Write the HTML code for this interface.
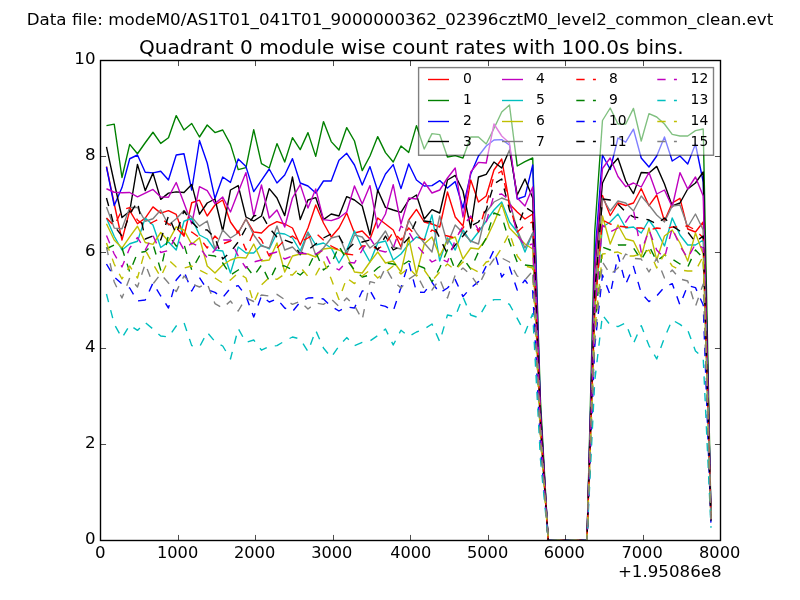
<!DOCTYPE html>
<html lang="en"><head><meta charset="utf-8"><title>Quadrant 0 module wise count rates</title>
<style>html,body{margin:0;padding:0;background:#fff;}body{width:800px;height:600px;overflow:hidden;}svg{display:block;will-change:transform;opacity:0.999;}text{font-family:"DejaVu Sans","Liberation Sans",sans-serif;fill:#000;}</style></head><body>
<svg width="800" height="600" viewBox="0 0 800 600">
<rect x="0" y="0" width="800" height="600" fill="#ffffff"/>
<defs><clipPath id="ax"><rect x="100.5" y="60.5" width="620" height="480"/></clipPath></defs>
<g clip-path="url(#ax)" fill="none" stroke-width="1.39" stroke-linejoin="round" stroke-linecap="butt">
<polyline points="106.47,166.50 114.22,203.75 121.97,240.00 129.72,210.60 137.47,223.75 145.22,218.10 152.97,206.90 160.72,213.10 168.47,210.60 176.22,214.40 183.97,236.25 191.72,202.75 199.47,200.20 207.22,216.00 214.97,205.00 222.72,200.00 230.47,222.00 238.22,233.00 245.97,219.00 253.72,232.00 261.47,233.00 269.22,225.60 276.97,221.60 284.72,224.00 292.47,228.00 300.22,245.00 307.97,228.00 315.72,205.00 323.47,223.00 331.22,237.00 338.97,228.00 346.72,213.00 354.47,233.00 362.22,231.00 369.97,239.00 377.72,218.00 385.47,224.00 393.22,230.00 400.97,247.00 408.72,220.00 416.47,209.40 424.22,222.00 431.97,224.00 439.72,227.00 447.47,192.00 455.22,217.00 462.97,226.00 470.72,180.00 478.47,202.00 486.22,196.00 493.97,170.00 501.72,159.00 509.47,204.00 517.22,212.00 524.97,219.00 532.72,214.00 540.47,420.06 548.22,540.50 555.97,540.50 563.72,540.50 571.47,540.50 579.22,540.50 586.97,540.50 594.72,295.34 602.47,195.50 610.22,215.50 617.97,203.00 625.72,205.50 633.47,203.00 641.22,188.50 648.97,205.70 656.72,195.00 664.47,221.00 672.22,203.00 679.97,198.30 687.72,229.00 695.47,232.00 703.22,222.00 710.97,519.85" stroke="#ff0000"/>
<polyline points="106.47,125.60 114.22,124.10 121.97,177.50 129.72,144.40 137.47,153.75 145.22,142.75 152.97,132.25 160.72,143.40 168.47,137.75 176.22,115.60 183.97,130.00 191.72,123.50 199.47,137.00 207.22,125.00 214.97,132.60 222.72,130.00 230.47,144.40 238.22,169.60 245.97,167.60 253.72,129.60 261.47,163.60 269.22,168.00 276.97,143.60 284.72,162.00 292.47,137.60 300.22,149.60 307.97,132.60 315.72,156.40 323.47,121.60 331.22,141.60 338.97,150.00 346.72,127.60 354.47,141.00 362.22,170.60 369.97,156.00 377.72,136.60 385.47,152.60 393.22,162.00 400.97,146.00 408.72,152.40 416.47,125.60 424.22,149.00 431.97,133.60 439.72,134.60 447.47,157.00 455.22,155.60 462.97,158.00 470.72,137.00 478.47,137.00 486.22,144.00 493.97,128.50 501.72,112.00 509.47,105.00 517.22,166.00 524.97,161.60 532.72,158.00 540.47,400.41 548.22,540.50 555.97,540.50 563.72,540.50 571.47,540.50 579.22,540.50 586.97,540.50 594.72,231.71 602.47,120.50 610.22,108.00 617.97,124.00 625.72,124.00 633.47,108.40 641.22,141.00 648.97,113.60 656.72,117.00 664.47,124.00 672.22,134.40 679.97,136.00 687.72,136.00 695.47,130.60 703.22,129.00 710.97,513.53" stroke="#008000"/>
<polyline points="106.47,167.00 114.22,205.60 121.97,187.60 129.72,158.75 137.47,155.00 145.22,172.25 152.97,172.90 160.72,171.25 168.47,180.00 176.22,155.00 183.97,153.75 191.72,190.00 199.47,140.50 207.22,163.00 214.97,198.60 222.72,177.00 230.47,182.40 238.22,159.00 245.97,166.60 253.72,191.60 261.47,180.40 269.22,169.00 276.97,183.00 284.72,175.00 292.47,158.60 300.22,183.00 307.97,186.00 315.72,193.00 323.47,181.00 331.22,181.00 338.97,160.30 346.72,153.30 354.47,165.00 362.22,185.00 369.97,166.60 377.72,191.00 385.47,174.00 393.22,164.60 400.97,188.60 408.72,164.00 416.47,180.00 424.22,186.00 431.97,185.60 439.72,180.60 447.47,188.00 455.22,181.60 462.97,208.00 470.72,174.00 478.47,156.00 486.22,146.00 493.97,140.00 501.72,139.60 509.47,145.00 517.22,199.00 524.97,196.40 532.72,165.00 540.47,409.63 548.22,540.50 555.97,540.50 563.72,540.50 571.47,540.50 579.22,540.50 586.97,540.50 594.72,258.48 602.47,155.00 610.22,169.50 617.97,138.00 625.72,142.20 633.47,129.20 641.22,158.00 648.97,167.00 656.72,156.00 664.47,137.00 672.22,161.00 679.97,156.00 687.72,164.00 695.47,144.00 703.22,182.00 710.97,515.61" stroke="#0000ff"/>
<polyline points="106.47,146.90 114.22,182.50 121.97,217.50 129.72,211.25 137.47,164.40 145.22,190.60 152.97,173.10 160.72,199.40 168.47,193.10 176.22,191.90 183.97,192.50 191.72,184.40 199.47,214.20 207.22,203.00 214.97,199.00 222.72,231.00 230.47,190.00 238.22,185.60 245.97,217.00 253.72,221.00 261.47,216.00 269.22,188.60 276.97,198.00 284.72,215.60 292.47,177.00 300.22,219.60 307.97,200.00 315.72,197.60 323.47,219.60 331.22,214.00 338.97,216.00 346.72,196.60 354.47,200.00 362.22,206.00 369.97,235.00 377.72,190.00 385.47,207.40 393.22,210.00 400.97,212.40 408.72,200.00 416.47,195.00 424.22,219.00 431.97,209.60 439.72,213.00 447.47,180.00 455.22,175.40 462.97,191.00 470.72,228.00 478.47,177.00 486.22,174.40 493.97,162.00 501.72,168.00 509.47,150.00 517.22,195.00 524.97,179.00 532.72,198.00 540.47,411.06 548.22,540.50 555.97,540.50 563.72,540.50 571.47,540.50 579.22,540.50 586.97,540.50 594.72,269.62 602.47,183.00 610.22,167.00 617.97,158.30 625.72,181.00 633.47,193.60 641.22,172.50 648.97,173.00 656.72,166.40 664.47,184.00 672.22,206.00 679.97,203.00 687.72,189.00 695.47,183.00 703.22,172.00 710.97,516.79" stroke="#000000"/>
<polyline points="106.47,188.75 114.22,192.25 121.97,192.75 129.72,192.50 137.47,196.90 145.22,193.10 152.97,189.40 160.72,196.90 168.47,197.25 176.22,182.50 183.97,203.00 191.72,223.75 199.47,186.60 207.22,190.60 214.97,203.60 222.72,197.00 230.47,212.00 238.22,192.00 245.97,172.60 253.72,216.00 261.47,185.00 269.22,218.00 276.97,210.00 284.72,227.00 292.47,198.00 300.22,184.60 307.97,208.00 315.72,189.00 323.47,219.60 331.22,220.60 338.97,218.00 346.72,212.00 354.47,186.00 362.22,204.00 369.97,185.60 377.72,228.00 385.47,214.00 393.22,184.60 400.97,224.00 408.72,198.00 416.47,199.00 424.22,182.00 431.97,193.00 439.72,190.00 447.47,178.00 455.22,168.00 462.97,217.00 470.72,172.00 478.47,162.40 486.22,163.00 493.97,124.00 501.72,136.00 509.47,143.00 517.22,198.00 524.97,206.00 532.72,187.00 540.47,413.40 548.22,540.50 555.97,540.50 563.72,540.50 571.47,540.50 579.22,540.50 586.97,540.50 594.72,268.33 602.47,168.50 610.22,158.00 617.97,176.50 625.72,186.70 633.47,183.00 641.22,187.00 648.97,172.50 656.72,194.00 664.47,190.00 672.22,207.00 679.97,172.60 687.72,189.00 695.47,177.00 703.22,196.00 710.97,517.19" stroke="#bf00bf"/>
<polyline points="106.47,218.10 114.22,236.25 121.97,250.00 129.72,243.75 137.47,241.25 145.22,218.10 152.97,225.00 160.72,247.50 168.47,241.90 176.22,250.00 183.97,221.25 191.72,218.10 199.47,235.00 207.22,239.00 214.97,250.00 222.72,251.00 230.47,273.00 238.22,247.00 245.97,253.00 253.72,253.00 261.47,245.00 269.22,249.00 276.97,233.00 284.72,234.00 292.47,238.00 300.22,251.00 307.97,232.00 315.72,245.00 323.47,243.00 331.22,248.00 338.97,263.00 346.72,250.00 354.47,231.00 362.22,248.00 369.97,262.00 377.72,243.00 385.47,241.00 393.22,260.00 400.97,254.00 408.72,244.00 416.47,237.00 424.22,240.00 431.97,215.00 439.72,261.00 447.47,238.00 455.22,250.00 462.97,230.00 470.72,242.00 478.47,232.00 486.22,221.00 493.97,210.00 501.72,202.00 509.47,222.00 517.22,232.00 524.97,252.00 532.72,233.00 540.47,428.94 548.22,540.50 555.97,540.50 563.72,540.50 571.47,540.50 579.22,540.50 586.97,540.50 594.72,307.26 602.47,227.00 610.22,222.00 617.97,214.00 625.72,228.00 633.47,227.00 641.22,233.00 648.97,220.00 656.72,231.00 664.47,246.00 672.22,218.00 679.97,235.00 687.72,245.00 695.47,245.00 703.22,240.00 710.97,520.89" stroke="#00bfbf"/>
<polyline points="106.47,223.75 114.22,240.00 121.97,248.10 129.72,236.90 137.47,226.25 145.22,242.50 152.97,244.40 160.72,232.50 168.47,241.25 176.22,226.90 183.97,230.00 191.72,244.40 199.47,237.80 207.22,266.00 214.97,273.00 222.72,265.00 230.47,260.00 238.22,257.40 245.97,258.00 253.72,244.00 261.47,261.00 269.22,260.00 276.97,243.00 284.72,272.00 292.47,256.00 300.22,254.00 307.97,254.00 315.72,257.00 323.47,249.00 331.22,248.00 338.97,250.00 346.72,255.00 354.47,272.00 362.22,273.00 369.97,262.00 377.72,252.00 385.47,263.00 393.22,261.00 400.97,272.00 408.72,238.00 416.47,274.00 424.22,244.00 431.97,237.00 439.72,256.00 447.47,240.00 455.22,237.00 462.97,259.00 470.72,248.00 478.47,249.00 486.22,239.00 493.97,222.50 501.72,204.00 509.47,228.00 517.22,236.00 524.97,244.00 532.72,249.00 540.47,430.43 548.22,540.50 555.97,540.50 563.72,540.50 571.47,540.50 579.22,540.50 586.97,540.50 594.72,312.62 602.47,216.00 610.22,244.00 617.97,225.00 625.72,239.00 633.47,241.00 641.22,257.00 648.97,228.00 656.72,260.00 664.47,236.00 672.22,230.00 679.97,243.00 687.72,261.00 695.47,233.00 703.22,254.00 710.97,521.28" stroke="#bfbf00"/>
<polyline points="106.47,206.90 114.22,228.10 121.97,228.75 129.72,207.50 137.47,207.50 145.22,221.25 152.97,218.75 160.72,210.00 168.47,225.00 176.22,218.75 183.97,210.60 191.72,217.00 199.47,226.10 207.22,221.00 214.97,249.00 222.72,230.00 230.47,238.00 238.22,233.00 245.97,219.00 253.72,235.00 261.47,246.00 269.22,248.00 276.97,226.00 284.72,250.00 292.47,247.00 300.22,255.00 307.97,233.00 315.72,255.00 323.47,248.00 331.22,238.00 338.97,236.00 346.72,254.00 354.47,235.00 362.22,237.00 369.97,248.00 377.72,242.00 385.47,231.00 393.22,247.00 400.97,249.00 408.72,220.00 416.47,233.00 424.22,243.00 431.97,252.00 439.72,216.00 447.47,244.00 455.22,225.00 462.97,233.00 470.72,241.00 478.47,244.00 486.22,212.00 493.97,202.00 501.72,198.00 509.47,201.00 517.22,230.00 524.97,248.00 532.72,233.00 540.47,428.20 548.22,540.50 555.97,540.50 563.72,540.50 571.47,540.50 579.22,540.50 586.97,540.50 594.72,294.37 602.47,198.00 610.22,211.00 617.97,201.00 625.72,203.00 633.47,211.00 641.22,196.00 648.97,205.00 656.72,215.00 664.47,222.00 672.22,206.00 679.97,205.00 687.72,227.00 695.47,214.00 703.22,230.00 710.97,519.59" stroke="#808080"/>
<polyline points="106.47,218.00 114.22,226.00 121.97,210.00 129.72,207.60 137.47,220.00 145.22,226.00 152.97,222.00 160.72,218.00 168.47,224.00 176.22,228.00 183.97,236.00 191.72,232.00 199.47,237.60 207.22,248.00 214.97,236.00 222.72,244.00 230.47,241.00 238.22,231.00 245.97,250.00 253.72,232.00 261.47,240.00 269.22,256.00 276.97,248.00 284.72,240.00 292.47,236.00 300.22,242.00 307.97,238.00 315.72,233.00 323.47,240.00 331.22,246.00 338.97,250.00 346.72,254.00 354.47,255.00 362.22,246.00 369.97,246.00 377.72,249.00 385.47,244.00 393.22,232.00 400.97,240.00 408.72,228.00 416.47,236.00 424.22,240.00 431.97,230.00 439.72,234.00 447.47,236.00 455.22,238.00 462.97,228.00 470.72,217.00 478.47,232.00 486.22,205.00 493.97,176.00 501.72,171.00 509.47,205.00 517.22,232.00 524.97,225.00 532.72,222.00 540.47,424.26 548.22,540.50 555.97,540.50 563.72,540.50 571.47,540.50 579.22,540.50 586.97,540.50 594.72,308.97 602.47,220.00 610.22,224.00 617.97,226.00 625.72,227.00 633.47,228.00 641.22,228.00 648.97,230.00 656.72,228.00 664.47,229.00 672.22,227.00 679.97,227.00 687.72,226.00 695.47,230.00 703.22,238.00 710.97,520.10" stroke="#ff0000" stroke-dasharray="8.33 8.33"/>
<polyline points="106.47,248.75 114.22,245.00 121.97,248.00 129.72,272.00 137.47,253.00 145.22,251.50 152.97,244.40 160.72,270.00 168.47,235.00 176.22,246.00 183.97,244.40 191.72,270.00 199.47,256.00 207.22,255.00 214.97,256.00 222.72,263.00 230.47,275.00 238.22,270.00 245.97,266.00 253.72,276.00 261.47,265.00 269.22,281.00 276.97,265.00 284.72,266.00 292.47,270.00 300.22,275.00 307.97,268.00 315.72,252.00 323.47,270.00 331.22,264.00 338.97,246.00 346.72,260.00 354.47,270.00 362.22,277.00 369.97,275.00 377.72,268.00 385.47,263.00 393.22,264.00 400.97,266.00 408.72,261.00 416.47,265.00 424.22,268.00 431.97,282.00 439.72,268.00 447.47,250.00 455.22,270.00 462.97,258.00 470.72,269.00 478.47,252.00 486.22,238.00 493.97,213.00 501.72,216.00 509.47,242.00 517.22,262.00 524.97,265.00 532.72,266.00 540.47,438.32 548.22,540.50 555.97,540.50 563.72,540.50 571.47,540.50 579.22,540.50 586.97,540.50 594.72,326.49 602.47,247.00 610.22,250.00 617.97,245.00 625.72,245.00 633.47,248.00 641.22,260.00 648.97,246.00 656.72,261.00 664.47,255.00 672.22,259.00 679.97,264.00 687.72,267.00 695.47,250.00 703.22,258.00 710.97,521.88" stroke="#008000" stroke-dasharray="8.33 8.33"/>
<polyline points="106.47,264.00 114.22,277.00 121.97,284.00 129.72,288.00 137.47,301.00 145.22,300.00 152.97,283.00 160.72,296.00 168.47,308.00 176.22,280.00 183.97,271.00 191.72,291.00 199.47,277.60 207.22,289.60 214.97,292.40 222.72,297.60 230.47,288.00 238.22,285.60 245.97,296.00 253.72,317.00 261.47,296.00 269.22,302.00 276.97,299.00 284.72,308.00 292.47,311.60 300.22,302.00 307.97,298.00 315.72,297.60 323.47,299.00 331.22,306.40 338.97,311.00 346.72,307.00 354.47,308.00 362.22,291.00 369.97,290.40 377.72,304.40 385.47,306.40 393.22,311.00 400.97,287.50 408.72,262.20 416.47,292.00 424.22,292.40 431.97,282.40 439.72,293.00 447.47,288.00 455.22,279.60 462.97,296.60 470.72,288.00 478.47,281.60 486.22,266.00 493.97,250.00 501.72,277.00 509.47,267.00 517.22,290.00 524.97,280.00 532.72,291.00 540.47,446.70 548.22,540.50 555.97,540.50 563.72,540.50 571.47,540.50 579.22,540.50 586.97,540.50 594.72,346.69 602.47,275.00 610.22,295.00 617.97,255.00 625.72,284.00 633.47,266.40 641.22,293.00 648.97,301.60 656.72,296.00 664.47,287.00 672.22,283.60 679.97,305.00 687.72,285.60 695.47,287.60 703.22,305.00 710.97,524.15" stroke="#0000ff" stroke-dasharray="8.33 8.33"/>
<polyline points="106.47,198.00 114.22,226.00 121.97,236.00 129.72,214.00 137.47,202.00 145.22,239.00 152.97,236.00 160.72,240.00 168.47,216.00 176.22,234.00 183.97,211.00 191.72,222.00 199.47,229.60 207.22,230.00 214.97,238.00 222.72,259.00 230.47,252.00 238.22,242.00 245.97,228.00 253.72,216.00 261.47,214.00 269.22,228.00 276.97,237.00 284.72,240.00 292.47,243.00 300.22,254.00 307.97,250.00 315.72,244.00 323.47,238.00 331.22,234.00 338.97,236.00 346.72,250.00 354.47,243.00 362.22,242.00 369.97,240.00 377.72,250.00 385.47,236.00 393.22,250.00 400.97,246.00 408.72,238.00 416.47,220.00 424.22,221.00 431.97,222.00 439.72,238.00 447.47,254.00 455.22,245.00 462.97,236.00 470.72,226.00 478.47,222.00 486.22,210.00 493.97,184.00 501.72,179.00 509.47,210.00 517.22,228.00 524.97,207.00 532.72,212.00 540.47,420.31 548.22,540.50 555.97,540.50 563.72,540.50 571.47,540.50 579.22,540.50 586.97,540.50 594.72,292.66 602.47,199.00 610.22,200.00 617.97,204.00 625.72,212.00 633.47,217.00 641.22,218.00 648.97,220.00 656.72,224.00 664.47,218.00 672.22,226.00 679.97,231.00 687.72,232.00 695.47,242.00 703.22,236.00 710.97,520.45" stroke="#000000" stroke-dasharray="8.33 8.33"/>
<polyline points="106.47,235.60 114.22,254.00 121.97,267.00 129.72,248.00 137.47,237.50 145.22,250.00 152.97,235.60 160.72,252.50 168.47,250.60 176.22,235.60 183.97,250.00 191.72,243.00 199.47,246.80 207.22,258.00 214.97,250.00 222.72,240.00 230.47,240.00 238.22,256.00 245.97,268.00 253.72,262.00 261.47,260.00 269.22,254.00 276.97,252.00 284.72,259.00 292.47,256.00 300.22,253.00 307.97,254.00 315.72,254.00 323.47,250.00 331.22,266.00 338.97,270.00 346.72,262.00 354.47,263.00 362.22,250.00 369.97,238.00 377.72,250.00 385.47,252.00 393.22,248.00 400.97,226.00 408.72,232.00 416.47,245.00 424.22,254.00 431.97,262.00 439.72,258.00 447.47,262.00 455.22,240.00 462.97,226.00 470.72,216.00 478.47,230.00 486.22,222.00 493.97,195.00 501.72,194.00 509.47,200.00 517.22,235.00 524.97,246.00 532.72,244.00 540.47,429.93 548.22,540.50 555.97,540.50 563.72,540.50 571.47,540.50 579.22,540.50 586.97,540.50 594.72,312.62 602.47,225.00 610.22,232.00 617.97,228.00 625.72,222.00 633.47,210.00 641.22,252.00 648.97,230.00 656.72,250.00 664.47,258.00 672.22,228.00 679.97,246.00 687.72,258.00 695.47,244.00 703.22,248.00 710.97,521.33" stroke="#bf00bf" stroke-dasharray="8.33 8.33"/>
<polyline points="106.47,294.00 114.22,324.00 121.97,338.00 129.72,325.00 137.47,330.40 145.22,322.60 152.97,329.00 160.72,336.00 168.47,337.00 176.22,326.00 183.97,322.60 191.72,345.60 199.47,347.00 207.22,332.40 214.97,341.60 222.72,346.00 230.47,359.00 238.22,328.60 245.97,342.40 253.72,340.00 261.47,350.20 269.22,346.40 276.97,345.60 284.72,341.00 292.47,337.00 300.22,339.00 307.97,351.60 315.72,330.40 323.47,348.00 331.22,357.40 338.97,346.00 346.72,337.60 354.47,345.60 362.22,342.40 369.97,341.00 377.72,335.60 385.47,329.00 393.22,345.00 400.97,330.20 408.72,336.40 416.47,332.00 424.22,329.00 431.97,324.00 439.72,341.60 447.47,315.00 455.22,316.60 462.97,297.00 470.72,315.00 478.47,317.60 486.22,304.40 493.97,299.60 501.72,299.60 509.47,304.40 517.22,318.40 524.97,333.00 532.72,313.60 540.47,459.53 548.22,540.50 555.97,540.50 563.72,540.50 571.47,540.50 579.22,540.50 586.97,540.50 594.72,381.14 602.47,315.00 610.22,325.00 617.97,326.60 625.72,323.00 633.47,343.40 641.22,325.60 648.97,345.60 656.72,359.00 664.47,337.60 672.22,320.00 679.97,324.40 687.72,330.00 695.47,351.00 703.22,358.00 710.97,527.68" stroke="#00bfbf" stroke-dasharray="8.33 8.33"/>
<polyline points="106.47,243.00 114.22,264.00 121.97,279.00 129.72,266.00 137.47,278.00 145.22,250.00 152.97,264.00 160.72,277.00 168.47,260.00 176.22,267.00 183.97,268.00 191.72,266.00 199.47,270.00 207.22,274.00 214.97,278.00 222.72,283.00 230.47,280.00 238.22,273.00 245.97,278.00 253.72,303.00 261.47,285.00 269.22,277.60 276.97,279.40 284.72,274.00 292.47,275.00 300.22,267.00 307.97,276.40 315.72,275.00 323.47,261.00 331.22,279.00 338.97,299.40 346.72,278.00 354.47,283.60 362.22,276.00 369.97,270.00 377.72,278.00 385.47,272.00 393.22,266.00 400.97,274.00 408.72,268.00 416.47,276.00 424.22,270.00 431.97,281.00 439.72,272.00 447.47,264.00 455.22,270.00 462.97,262.00 470.72,268.00 478.47,272.00 486.22,262.00 493.97,260.00 501.72,248.00 509.47,233.00 517.22,256.00 524.97,266.00 532.72,268.00 540.47,437.95 548.22,540.50 555.97,540.50 563.72,540.50 571.47,540.50 579.22,540.50 586.97,540.50 594.72,330.62 602.47,254.00 610.22,253.00 617.97,252.00 625.72,256.00 633.47,256.00 641.22,254.00 648.97,250.00 656.72,268.00 664.47,254.00 672.22,266.00 679.97,270.00 687.72,271.00 695.47,271.00 703.22,256.00 710.97,522.38" stroke="#bfbf00" stroke-dasharray="8.33 8.33"/>
<polyline points="106.47,247.00 114.22,282.00 121.97,298.00 129.72,278.00 137.47,287.00 145.22,264.00 152.97,284.00 160.72,274.00 168.47,283.00 176.22,291.60 183.97,276.00 191.72,284.00 199.47,287.00 207.22,283.60 214.97,303.60 222.72,308.00 230.47,301.00 238.22,311.00 245.97,298.00 253.72,301.50 261.47,295.00 269.22,296.00 276.97,294.40 284.72,299.60 292.47,304.40 300.22,301.40 307.97,309.00 315.72,303.00 323.47,304.40 331.22,299.00 338.97,306.40 346.72,298.00 354.47,305.60 362.22,319.60 369.97,281.60 377.72,283.60 385.47,267.60 393.22,281.00 400.97,288.00 408.72,279.30 416.47,274.00 424.22,289.00 431.97,290.00 439.72,279.00 447.47,298.00 455.22,275.00 462.97,268.00 470.72,275.00 478.47,286.00 486.22,270.00 493.97,259.00 501.72,258.00 509.47,262.00 517.22,276.00 524.97,280.00 532.72,271.00 540.47,442.51 548.22,540.50 555.97,540.50 563.72,540.50 571.47,540.50 579.22,540.50 586.97,540.50 594.72,341.67 602.47,262.00 610.22,274.40 617.97,268.00 625.72,254.00 633.47,258.40 641.22,259.00 648.97,272.00 656.72,258.40 664.47,278.00 672.22,270.00 679.97,279.00 687.72,281.00 695.47,306.40 703.22,284.00 710.97,524.00" stroke="#808080" stroke-dasharray="8.33 8.33"/>
</g>
<g stroke="#000" stroke-width="0.7" fill="none">
<line x1="100.5" y1="540.5" x2="100.5" y2="534.94"/>
<line x1="100.5" y1="60.5" x2="100.5" y2="66.06"/>
<line x1="178.5" y1="540.5" x2="178.5" y2="534.94"/>
<line x1="178.5" y1="60.5" x2="178.5" y2="66.06"/>
<line x1="255.5" y1="540.5" x2="255.5" y2="534.94"/>
<line x1="255.5" y1="60.5" x2="255.5" y2="66.06"/>
<line x1="333.5" y1="540.5" x2="333.5" y2="534.94"/>
<line x1="333.5" y1="60.5" x2="333.5" y2="66.06"/>
<line x1="410.5" y1="540.5" x2="410.5" y2="534.94"/>
<line x1="410.5" y1="60.5" x2="410.5" y2="66.06"/>
<line x1="488.5" y1="540.5" x2="488.5" y2="534.94"/>
<line x1="488.5" y1="60.5" x2="488.5" y2="66.06"/>
<line x1="565.5" y1="540.5" x2="565.5" y2="534.94"/>
<line x1="565.5" y1="60.5" x2="565.5" y2="66.06"/>
<line x1="643.5" y1="540.5" x2="643.5" y2="534.94"/>
<line x1="643.5" y1="60.5" x2="643.5" y2="66.06"/>
<line x1="720.5" y1="540.5" x2="720.5" y2="534.94"/>
<line x1="720.5" y1="60.5" x2="720.5" y2="66.06"/>
<line x1="100.5" y1="540.5" x2="106.06" y2="540.5"/>
<line x1="720.5" y1="540.5" x2="714.94" y2="540.5"/>
<line x1="100.5" y1="444.5" x2="106.06" y2="444.5"/>
<line x1="720.5" y1="444.5" x2="714.94" y2="444.5"/>
<line x1="100.5" y1="348.5" x2="106.06" y2="348.5"/>
<line x1="720.5" y1="348.5" x2="714.94" y2="348.5"/>
<line x1="100.5" y1="252.5" x2="106.06" y2="252.5"/>
<line x1="720.5" y1="252.5" x2="714.94" y2="252.5"/>
<line x1="100.5" y1="156.5" x2="106.06" y2="156.5"/>
<line x1="720.5" y1="156.5" x2="714.94" y2="156.5"/>
<line x1="100.5" y1="60.5" x2="106.06" y2="60.5"/>
<line x1="720.5" y1="60.5" x2="714.94" y2="60.5"/>
</g>
<rect x="100.5" y="60.5" width="620" height="480" fill="none" stroke="#000" stroke-width="1.39"/>
<g font-size="16.67px">
<text x="100.2" y="557.9" text-anchor="middle">0</text>
<text x="177.6" y="557.9" text-anchor="middle" textLength="41.3" lengthAdjust="spacingAndGlyphs">1000</text>
<text x="254.6" y="557.9" text-anchor="middle" textLength="41.3" lengthAdjust="spacingAndGlyphs">2000</text>
<text x="331.8" y="557.9" text-anchor="middle" textLength="41.3" lengthAdjust="spacingAndGlyphs">3000</text>
<text x="410.8" y="557.9" text-anchor="middle" textLength="41.3" lengthAdjust="spacingAndGlyphs">4000</text>
<text x="487.6" y="557.9" text-anchor="middle" textLength="41.3" lengthAdjust="spacingAndGlyphs">5000</text>
<text x="564.3" y="557.9" text-anchor="middle" textLength="41.3" lengthAdjust="spacingAndGlyphs">6000</text>
<text x="642.1" y="557.9" text-anchor="middle" textLength="41.3" lengthAdjust="spacingAndGlyphs">7000</text>
<text x="719.65" y="557.9" text-anchor="middle" textLength="41.3" lengthAdjust="spacingAndGlyphs">8000</text>
<text x="95.5" y="543.9" text-anchor="end">0</text>
<text x="95.5" y="447.9" text-anchor="end">2</text>
<text x="95.5" y="351.9" text-anchor="end">4</text>
<text x="95.5" y="255.9" text-anchor="end">6</text>
<text x="95.5" y="159.9" text-anchor="end">8</text>
<text x="95.5" y="63.9" text-anchor="end">10</text>
<text x="721.6" y="576.8" text-anchor="end">+1.95086e8</text>
<text x="400" y="25" text-anchor="middle" textLength="746.6" lengthAdjust="spacingAndGlyphs">Data file: modeM0/AS1T01_041T01_9000000362_02396cztM0_level2_common_clean.evt</text>
</g>
<text x="411.3" y="54" text-anchor="middle" font-size="20px" textLength="544.8" lengthAdjust="spacingAndGlyphs">Quadrant 0 module wise count rates with 100.0s bins.</text>
<rect x="418.6" y="67.6" width="294.9" height="87.65" fill="#ffffff" fill-opacity="0.5" stroke="#000" stroke-opacity="0.5" stroke-width="1.39"/>
<g font-size="13.89px">
<line x1="428" y1="79.5" x2="449" y2="79.5" stroke="#ff0000" stroke-width="1.39"/>
<text x="462.9" y="82.8">0</text>
<line x1="428" y1="100.5" x2="449" y2="100.5" stroke="#008000" stroke-width="1.39"/>
<text x="462.9" y="103.6">1</text>
<line x1="428" y1="121.5" x2="449" y2="121.5" stroke="#0000ff" stroke-width="1.39"/>
<text x="462.9" y="124.8">2</text>
<line x1="428" y1="141.5" x2="449" y2="141.5" stroke="#000000" stroke-width="1.39"/>
<text x="462.9" y="146">3</text>
<line x1="502" y1="79.5" x2="523" y2="79.5" stroke="#bf00bf" stroke-width="1.39"/>
<text x="535.9" y="82.8">4</text>
<line x1="502" y1="100.5" x2="523" y2="100.5" stroke="#00bfbf" stroke-width="1.39"/>
<text x="535.9" y="103.6">5</text>
<line x1="502" y1="121.5" x2="523" y2="121.5" stroke="#bfbf00" stroke-width="1.39"/>
<text x="535.9" y="124.8">6</text>
<line x1="502" y1="141.5" x2="523" y2="141.5" stroke="#808080" stroke-width="1.39"/>
<text x="535.9" y="146">7</text>
<line x1="576.3" y1="79.5" x2="595.9" y2="79.5" stroke="#ff0000" stroke-width="1.39" stroke-dasharray="8.33 8.33"/>
<text x="609" y="82.8">8</text>
<line x1="576.3" y1="100.5" x2="595.9" y2="100.5" stroke="#008000" stroke-width="1.39" stroke-dasharray="8.33 8.33"/>
<text x="609" y="103.6">9</text>
<line x1="576.3" y1="121.5" x2="595.9" y2="121.5" stroke="#0000ff" stroke-width="1.39" stroke-dasharray="8.33 8.33"/>
<text x="609" y="124.8">10</text>
<line x1="576.3" y1="141.5" x2="595.9" y2="141.5" stroke="#000000" stroke-width="1.39" stroke-dasharray="8.33 8.33"/>
<text x="609" y="146">11</text>
<line x1="657.3" y1="79.5" x2="676.9" y2="79.5" stroke="#bf00bf" stroke-width="1.39" stroke-dasharray="8.33 8.33"/>
<text x="690.6" y="82.8">12</text>
<line x1="657.3" y1="100.5" x2="676.9" y2="100.5" stroke="#00bfbf" stroke-width="1.39" stroke-dasharray="8.33 8.33"/>
<text x="690.6" y="103.6">13</text>
<line x1="657.3" y1="121.5" x2="676.9" y2="121.5" stroke="#bfbf00" stroke-width="1.39" stroke-dasharray="8.33 8.33"/>
<text x="690.6" y="124.8">14</text>
<line x1="657.3" y1="141.5" x2="676.9" y2="141.5" stroke="#808080" stroke-width="1.39" stroke-dasharray="8.33 8.33"/>
<text x="690.6" y="146">15</text>
</g>
</svg></body></html>
